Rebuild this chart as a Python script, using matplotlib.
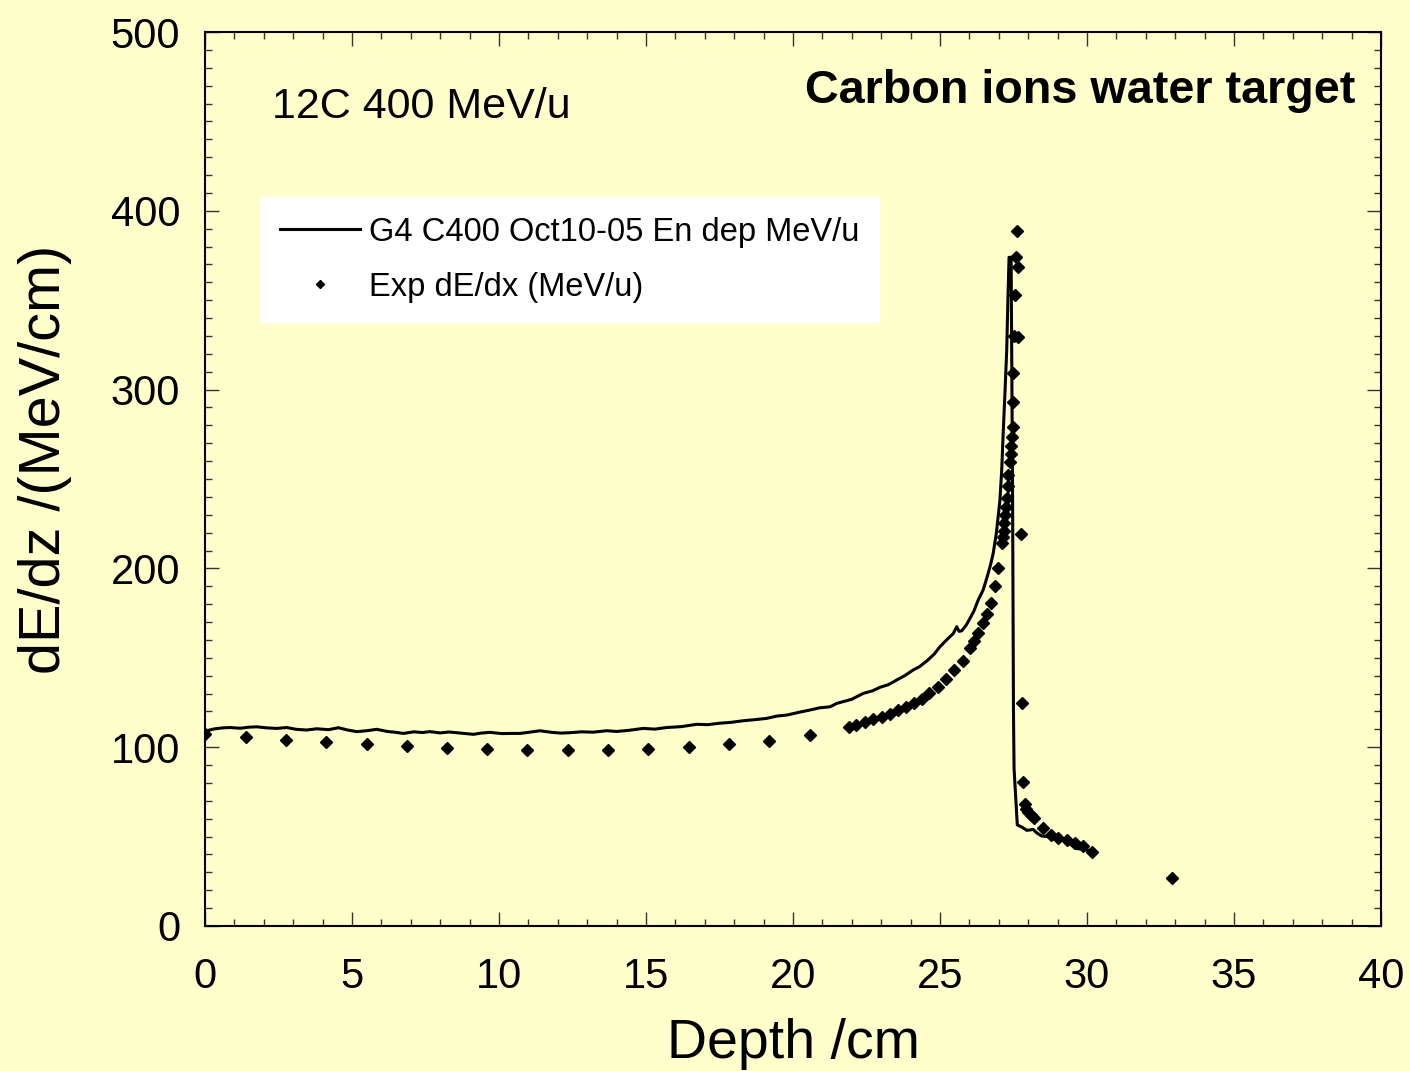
import matplotlib
matplotlib.use("Agg")
import matplotlib.pyplot as plt
from matplotlib.ticker import MultipleLocator

plt.rcParams["font.family"] = ["Liberation Sans", "DejaVu Sans"]

BG = "#FFFFCC"

# Geant4 simulation: energy deposit vs depth
g4_depth = [
    0.0, 0.15, 0.3, 0.6, 0.85, 1.2, 1.5, 1.76, 2.1, 2.45, 2.78, 3.1, 3.46, 3.8,
    4.2, 4.54, 4.85, 5.16, 5.5, 5.84, 6.2, 6.5, 6.75, 7.1, 7.4, 7.65, 8.0, 8.3,
    8.56, 9.13, 9.4, 9.69, 10.1, 10.37, 10.71, 11.0, 11.39, 11.8, 12.1, 12.41,
    12.8, 13.2, 13.66, 14.0, 14.4, 14.91, 15.3, 15.7, 16.2, 16.72, 17.1, 17.5,
    17.9, 18.31, 18.7, 19.1, 19.45, 19.8, 20.2, 20.58, 20.9, 21.26, 21.49,
    21.71, 22.0, 22.39, 22.7, 22.96, 23.25, 23.53, 23.8, 24.09, 24.3, 24.55,
    24.8, 25.0, 25.28, 25.45, 25.57, 25.65, 25.74, 25.9, 26.02, 26.15, 26.3,
    26.47, 26.6, 26.72, 26.81, 26.92, 27.04, 27.1, 27.15, 27.21, 27.27, 27.31,
    27.35, 27.42, 27.47, 27.5, 27.52, 27.63, 27.8, 27.95, 28.06, 28.17, 28.3,
    28.46, 28.7, 28.97, 29.15, 29.31, 29.45, 29.6, 29.8, 29.93, 30.1,
]
g4_dedz = [
    107.2, 109.5, 110.2, 110.8, 111.0, 110.6, 111.2, 111.4, 110.8, 110.5,
    111.0, 110.0, 109.6, 110.3, 109.8, 110.9, 109.6, 108.7, 109.2, 110.0,
    108.8, 108.3, 107.7, 108.6, 108.2, 108.7, 108.0, 108.5, 108.1, 107.2,
    107.9, 108.3, 107.6, 107.7, 107.7, 108.3, 109.2, 108.3, 107.9, 108.1,
    108.6, 108.4, 109.2, 108.8, 109.4, 110.5, 110.1, 111.0, 111.5, 112.8,
    112.6, 113.4, 113.9, 114.8, 115.4, 116.1, 117.4, 118.0, 119.5, 120.8,
    122.0, 122.6, 124.5, 125.5, 126.8, 130.1, 131.5, 133.5, 135.0, 137.6,
    140.0, 143.2, 145.0, 148.2, 152.0, 156.2, 160.9, 163.5, 167.4, 164.8,
    165.1, 168.5, 172.0, 176.0, 182.3, 188.0, 195.0, 202.0, 208.4, 220.0,
    238.3, 255.0, 275.5, 298.0, 322.0, 350.0, 374.0, 374.0, 240.0, 120.0,
    88.0, 56.5, 55.2, 53.5, 53.7, 54.0, 52.0, 50.3, 50.0, 49.9, 48.5, 47.1,
    45.5, 43.4, 43.0, 42.5, 42.3,
]

# measured dE/dx
exp_depth = [
    0.0, 1.38, 2.75, 4.12, 5.5, 6.87, 8.24, 9.6, 10.96, 12.34, 13.71, 15.08,
    16.45, 17.82, 19.19, 20.57,
    21.92, 22.16, 22.45, 22.73, 23.02, 23.3, 23.58, 23.84, 24.12, 24.38,
    24.64, 24.92, 25.2, 25.49, 25.77, 26.02, 26.16, 26.3, 26.45, 26.59,
    26.73, 26.86, 26.99, 27.12, 27.15, 27.18, 27.19, 27.21, 27.24, 27.27,
    27.3, 27.32, 27.38, 27.41, 27.41, 27.44, 27.47, 27.47, 27.5, 27.52,
    27.55, 27.57, 27.61, 27.66, 27.66, 27.74, 27.78, 27.83, 27.89, 27.94,
    28.01, 28.09, 28.2, 28.49, 28.76, 29.03, 29.33, 29.59, 29.88, 30.16,
    32.88,
]
exp_dedx = [
    107.2, 105.5, 104.0, 103.1, 101.8, 100.7, 99.7, 99.0, 98.4, 98.4, 98.4,
    99.2, 99.9, 101.6, 103.5, 106.8,
    111.5, 112.4, 114.3, 115.6, 116.7, 118.3, 120.8, 122.7, 124.5, 126.7,
    130.5, 133.9, 138.1, 143.2, 148.4, 155.3, 159.6, 163.7, 169.2, 174.5,
    180.8, 190.2, 200.4, 214.0, 217.7, 220.9, 225.2, 229.9, 234.5, 239.6,
    246.0, 252.2, 259.7, 264.0, 268.5, 273.7, 279.2, 293.2, 309.4, 330.0,
    352.9, 374.0, 388.9, 368.8, 329.6, 219.2, 124.9, 80.7, 68.2, 65.7,
    63.7, 62.2, 60.3, 55.0, 50.9, 49.4, 48.1, 46.2, 44.9, 41.2,
    27.0,
]

fig = plt.figure(figsize=(14.1, 10.71), dpi=100, facecolor=BG)
ax = fig.add_axes([0.1454, 0.1354, 0.834, 0.8347], facecolor=BG)

ax.plot(g4_depth, g4_dedz, "-", color="black", lw=2.2,
        label="G4 C400 Oct10-05 En dep MeV/u")
ax.plot(exp_depth, exp_dedx, "D", color="black", ms=6.6, ls="none",
        label="Exp dE/dx (MeV/u)")

ax.set_xlim(0, 40)
ax.set_ylim(0, 500)
ax.xaxis.set_major_locator(MultipleLocator(5))
ax.xaxis.set_minor_locator(MultipleLocator(1))
ax.yaxis.set_major_locator(MultipleLocator(100))
ax.yaxis.set_minor_locator(MultipleLocator(10))
ax.tick_params(which="both", direction="in", top=True, right=True,
               width=1, color="#333333")
ax.tick_params(which="major", length=10, labelsize=30)
ax.tick_params(which="minor", length=5)
ax.tick_params(axis="x", pad=22)
ax.tick_params(axis="y", pad=18)
for s in ax.spines.values():
    s.set_linewidth(1.5)

ax.set_xlabel("Depth /cm", fontsize=40)
ax.set_ylabel("dE/dz /(MeV/cm)", fontsize=41.5)
ax.xaxis.set_label_coords(0.5, -0.103)
ax.yaxis.set_label_coords(-0.113, 0.522)

ax.text(0.057, 0.904, "12C 400 MeV/u", transform=ax.transAxes,
        fontsize=31, va="baseline", ha="left")
ax.text(0.978, 0.9206, "Carbon ions water target", transform=ax.transAxes,
        fontsize=33.7, fontweight="bold", va="baseline", ha="right")

leg = ax.legend(loc="upper left", bbox_to_anchor=(0.0468, 0.8154),
                borderaxespad=0, fontsize=23.5, frameon=True, fancybox=False,
                handlelength=2.45, handletextpad=0.3, labelspacing=0.74,
                borderpad=0.6, markerscale=0.6)
leg.get_frame().set_facecolor("white")
leg.get_frame().set_edgecolor("white")
leg.get_frame().set_alpha(1)

fig.savefig("out.png", dpi=100, facecolor=BG)
